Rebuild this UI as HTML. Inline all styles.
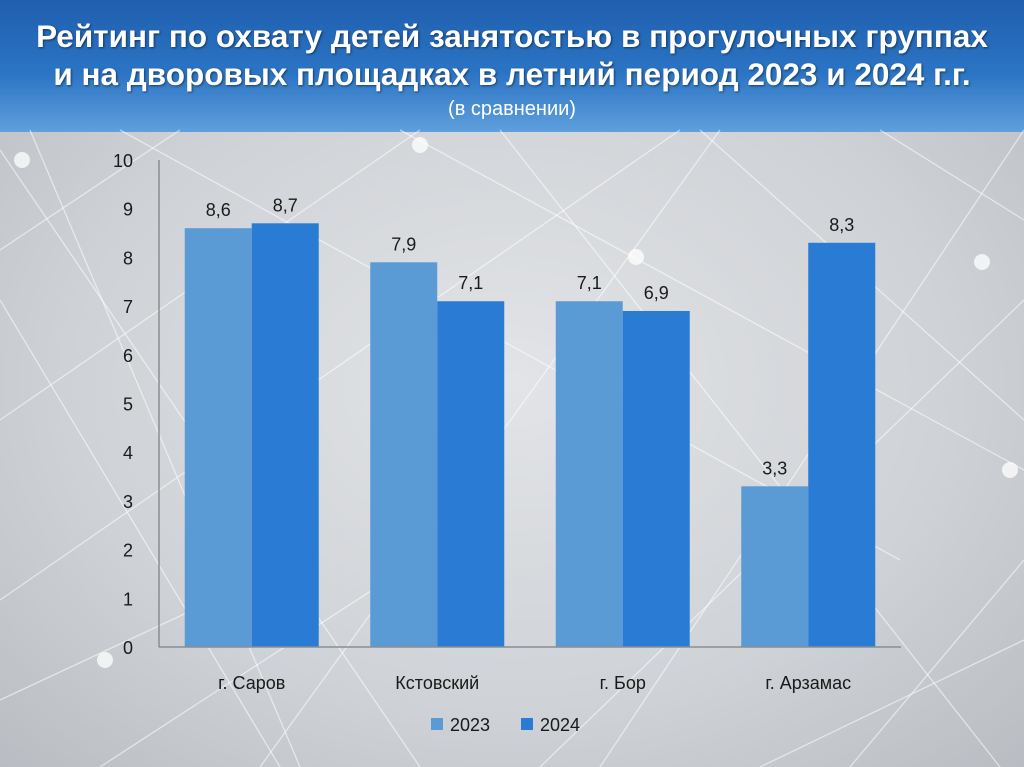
<!DOCTYPE html>
<html><head><meta charset="utf-8">
<style>
html,body{margin:0;padding:0;}
body{width:1024px;height:767px;position:relative;overflow:hidden;font-family:"Liberation Sans",sans-serif;
background:radial-gradient(ellipse at 50% 50%,#e2e4e7 0%,#cfd2d6 60%,#b9bdc2 100%);}
#hdr{position:absolute;left:0;top:0;width:1024px;height:132px;background:linear-gradient(#1f5fae 0%,#2b74c4 55%,#5f9fdc 100%);}
#hdr .t{position:absolute;left:0;width:1024px;text-align:center;color:#fff;font-weight:bold;font-size:31.5px;text-shadow:1px 1px 2px rgba(0,0,0,0.5);}
#hdr .s{position:absolute;left:0;width:1024px;text-align:center;color:#fff;font-size:20px;top:98px;}
svg{position:absolute;left:0;top:0;}
</style></head><body>
<div id="hdr">
<div class="t" style="top:18px">Рейтинг по охвату детей занятостью в прогулочных группах</div>
<div class="t" style="top:56px">и на дворовых площадках в летний период 2023 и 2024 г.г.</div>
<div class="s">(в сравнении)</div>
</div>
<svg id="chart" width="1024" height="767"></svg>
<script>
const categories=["г. Саров","Кстовский","г. Бор","г. Арзамас"];
const series2023=[8.6,7.9,7.1,3.3];
const series2024=[8.7,7.1,6.9,8.3];
const yTicks=[0,1,2,3,4,5,6,7,8,9,10];
const labels2023=["8,6","7,9","7,1","3,3"];
const labels2024=["8,7","7,1","6,9","8,3"];

const svg=document.getElementById('chart');
const NS='http://www.w3.org/2000/svg';
const X0=159,X1=901,Y0=647,Y1=160;
const y=v=>Y0-(Y0-Y1)*v/10;
const catW=(X1-X0)/categories.length;
const barW=67;
function mk(tag,attrs,txt){const e=document.createElementNS(NS,tag);for(const k in attrs)e.setAttribute(k,attrs[k]);if(txt!==undefined)e.textContent=txt;svg.appendChild(e);return e;}
const bg=[[0,150,420,767],[30,130,300,767],[120,130,900,560],[400,130,1024,470],[0,420,420,130],[540,767,1024,300],[700,130,1024,420],[0,600,680,130],[850,767,1024,560],[260,767,720,130],[0,300,280,767],[600,767,1024,130],[100,767,480,520],[880,130,1024,220],[0,250,180,130],[500,130,1000,767],[760,767,1024,640],[0,700,300,560]];
bg.forEach(l=>{const e=mk('line',{x1:l[0],y1:l[1],x2:l[2],y2:l[3],stroke:'#ffffff','stroke-width':1.3,'stroke-opacity':0.55});

});
[[982,262],[105,660],[22,160],[636,257],[420,145],[1010,470]].forEach(p=>{const c=mk('circle',{cx:p[0],cy:p[1],r:8,fill:'#ffffff','fill-opacity':0.75});

});
const ya=mk('line',{x1:X0,y1:Y1,x2:X0,y2:Y0,stroke:'#8a8d91','stroke-width':1.5});


yTicks.forEach(t=>{const e=mk('text',{x:133,y:y(t)+7,'text-anchor':'end','font-size':18,fill:'#1a1a1a'},String(t));

});
categories.forEach((c,i)=>{
 const cx=X0+catW*(i+0.5);
 const b1=mk('rect',{x:cx-barW,y:y(series2023[i]),width:barW,height:Y0-y(series2023[i]),fill:'#5b9bd5'});
 
 
 const b2=mk('rect',{x:cx,y:y(series2024[i]),width:barW,height:Y0-y(series2024[i]),fill:'#2a7bd4'});
 
 
 const l1=mk('text',{x:cx-barW/2,y:y(series2023[i])-12,'text-anchor':'middle','font-size':18,fill:'#1a1a1a'},labels2023[i]);
 
 
 const l2=mk('text',{x:cx+barW/2,y:y(series2024[i])-12,'text-anchor':'middle','font-size':18,fill:'#1a1a1a'},labels2024[i]);
 
 
 const cl=mk('text',{x:cx,y:689,'text-anchor':'middle','font-size':18,fill:'#1a1a1a'},c);
 
 
});
const ax=mk('line',{x1:X0,y1:Y0,x2:X1,y2:Y0,stroke:'#8a8d91','stroke-width':1.5});


const lg1=mk('rect',{x:431,y:718,width:12,height:12,fill:'#5b9bd5'});


const lt1=mk('text',{x:450,y:731,'font-size':18,fill:'#1a1a1a'},'2023');


const lg2=mk('rect',{x:521,y:718,width:12,height:12,fill:'#2a7bd4'});


const lt2=mk('text',{x:540,y:731,'font-size':18,fill:'#1a1a1a'},'2024');


</script>
</body></html>
